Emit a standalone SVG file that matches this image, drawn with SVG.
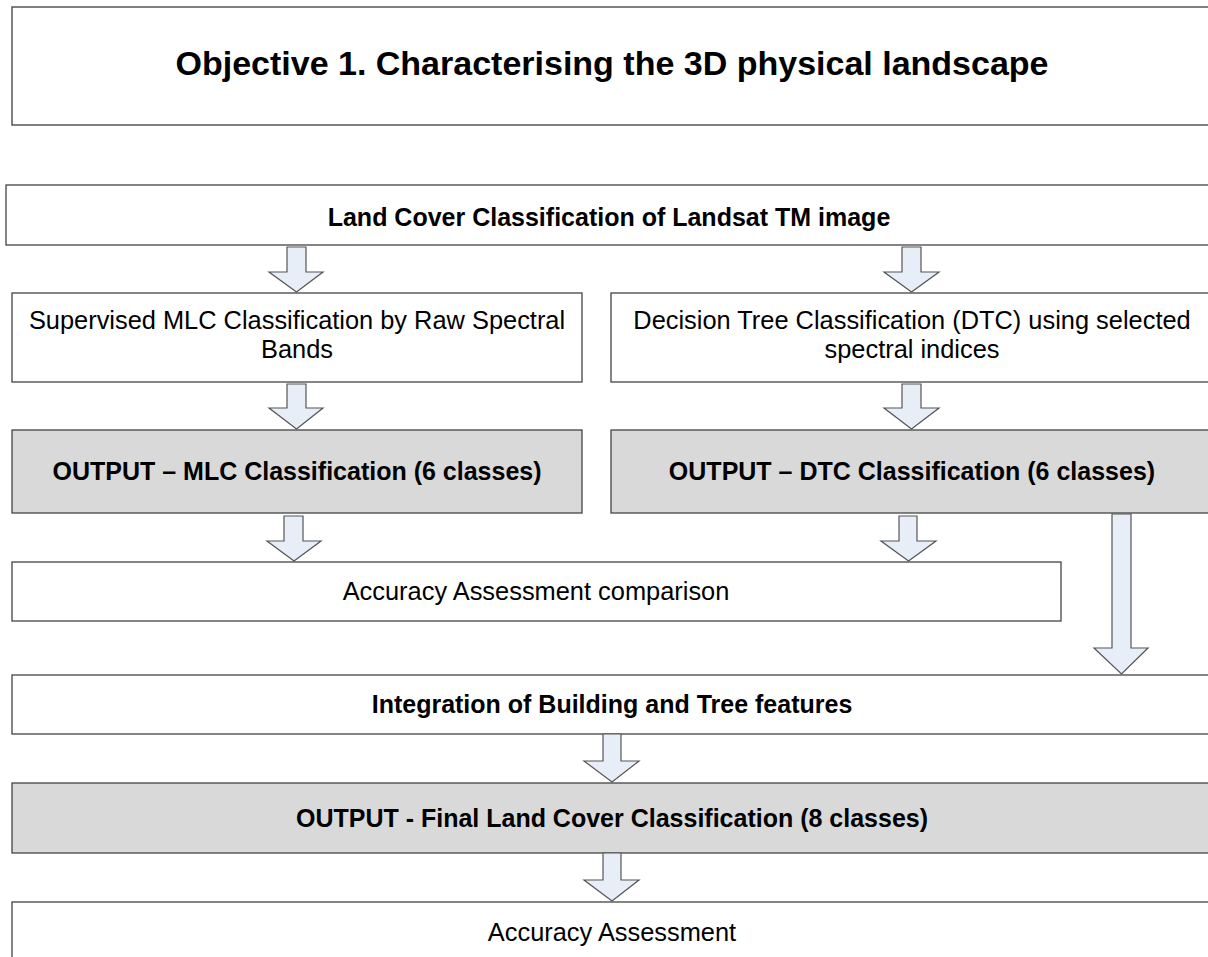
<svg xmlns="http://www.w3.org/2000/svg" width="1208" height="957" viewBox="0 0 1208 957">
  <style>
    .box { fill: #ffffff; stroke: #444444; stroke-width: 1.3; }
    .out { fill: #d9d9d9; stroke: #444444; stroke-width: 1.3; }
    .arrow { fill: #e8eef8; stroke: #555555; stroke-width: 1.2; stroke-linejoin: miter; }
    text { font-family: "Liberation Sans", Arial, sans-serif; fill: #000000; text-anchor: middle; }
    .title { font-size: 34px; font-weight: bold; }
    .bold { font-size: 25px; font-weight: bold; }
    .reg { font-size: 25.4px; }
  </style>

  <rect width="1208" height="957" fill="#ffffff"/>

  <g id="objective">
    <rect class="box" x="12" y="7" width="1206" height="118" style="stroke:#555555;stroke-width:1.5"/>
    <text class="title" x="612" y="75">Objective 1. Characterising the 3D physical landscape</text>
  </g>

  <g id="landcover">
    <rect class="box" x="6" y="185" width="1212" height="60"/>
    <text class="bold" x="609" y="226">Land Cover Classification of Landsat TM image</text>
  </g>

  <g id="mlc">
    <rect class="box" x="12" y="293" width="570" height="89"/>
    <text class="reg" x="297" y="329">Supervised MLC Classification by Raw Spectral</text>
    <text class="reg" x="297" y="358">Bands</text>
  </g>

  <g id="dtc">
    <rect class="box" x="611" y="293" width="607" height="89"/>
    <text class="reg" x="912" y="329">Decision Tree Classification (DTC) using selected</text>
    <text class="reg" x="912" y="358">spectral indices</text>
  </g>

  <g id="mlc-output">
    <rect class="out" x="12" y="430" width="570" height="83"/>
    <text class="bold" x="297" y="480">OUTPUT – MLC Classification (6 classes)</text>
  </g>

  <g id="dtc-output">
    <rect class="out" x="611" y="430" width="607" height="83"/>
    <text class="bold" x="912" y="480">OUTPUT – DTC Classification (6 classes)</text>
  </g>

  <g id="accuracy-comparison">
    <rect class="box" x="12" y="562" width="1049" height="59"/>
    <text class="reg" x="536" y="600">Accuracy Assessment comparison</text>
  </g>

  <g id="integration">
    <rect class="box" x="12" y="675" width="1206" height="59"/>
    <text class="bold" x="612" y="713">Integration of Building and Tree features</text>
  </g>

  <g id="final-output">
    <rect class="out" x="12" y="783" width="1206" height="70"/>
    <text class="bold" x="612" y="827">OUTPUT - Final Land Cover Classification (8 classes)</text>
  </g>

  <g id="accuracy">
    <rect class="box" x="12" y="902" width="1206" height="70"/>
    <text class="reg" x="612" y="941">Accuracy Assessment</text>
  </g>

  <g id="connectors">
    <!-- land cover to the two classification methods -->
    <polygon class="arrow" points="287,247 306,247 306,272 323,272 296.5,292 269,272 287,272"/>
    <polygon class="arrow" points="902,247 921,247 921,272 939,272 911.5,292 884,272 902,272"/>
    <!-- methods to outputs -->
    <polygon class="arrow" points="287,384 306,384 306,408 323,408 296.5,429 269,408 287,408"/>
    <polygon class="arrow" points="902,384 921,384 921,408 939,408 911.5,429 884,408 902,408"/>
    <!-- outputs to accuracy comparison -->
    <polygon class="arrow" points="284,516 303,516 303,541 321,541 294,561 267,541 284,541"/>
    <polygon class="arrow" points="899,516 917,516 917,541 936,541 908.5,561 881,541 899,541"/>
    <!-- DTC output to integration -->
    <polygon class="arrow" points="1112,514 1131,514 1131,648 1148,648 1121.5,674 1094,648 1112,648"/>
    <!-- integration to final output -->
    <polygon class="arrow" points="603,734 621,734 621,761 639,761 612,782 584,761 603,761"/>
    <!-- final output to accuracy assessment -->
    <polygon class="arrow" points="603,853 621,853 621,880 639,880 612,901 584,880 603,880"/>
  </g>
</svg>
